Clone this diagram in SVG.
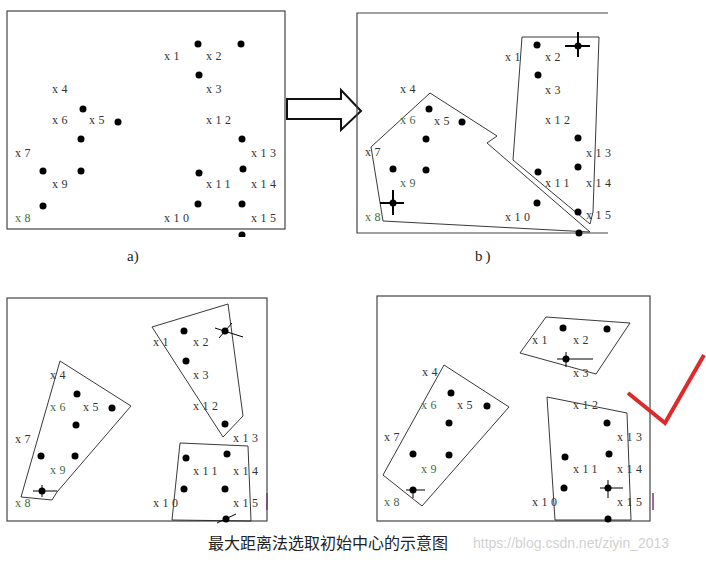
<svg xmlns="http://www.w3.org/2000/svg" width="706" height="562" viewBox="0 0 706 562">
<style>
.frame{fill:none;stroke:#444;stroke-width:1.2}
.poly{fill:none;stroke:#222;stroke-width:0.9;stroke-linejoin:miter}
.pt{fill:#000}
.lbl{font-family:"Liberation Serif",serif;font-size:12px;letter-spacing:3.5px;fill:#333}
.g{fill:#3d6b3d}
.cross{stroke:#000;stroke-width:2;fill:none}
.thin{stroke:#000;stroke-width:1;fill:none}
.cap{font-family:"Liberation Serif",serif;font-size:15px;fill:#222}
</style>
<defs>
<clipPath id="halfdot"><rect x="236" y="229" width="12" height="8"/></clipPath>
</defs>
<rect width="706" height="562" fill="#fff"/>

<!-- Panel a -->
<g id="panel-a">
<rect class="frame" x="7" y="11" width="278" height="218"/>
<g class="pts">
<circle class="pt" cx="198" cy="44" r="3.5"/>
<circle class="pt" cx="241" cy="44" r="3.5"/>
<circle class="pt" cx="199" cy="75" r="3.5"/>
<circle class="pt" cx="83" cy="109" r="3.5"/>
<circle class="pt" cx="118" cy="122" r="3.5"/>
<circle class="pt" cx="81" cy="139" r="3.5"/>
<circle class="pt" cx="43" cy="171" r="3.5"/>
<circle class="pt" cx="81" cy="171" r="3.5"/>
<circle class="pt" cx="43" cy="206" r="3.5"/>
<circle class="pt" cx="242" cy="139" r="3.5"/>
<circle class="pt" cx="243" cy="169" r="3.5"/>
<circle class="pt" cx="199" cy="173" r="3.5"/>
<circle class="pt" cx="198" cy="204" r="3.5"/>
<circle class="pt" cx="242" cy="204" r="3.5"/>
<circle class="pt" cx="242" cy="235" r="3.5" clip-path="url(#halfdot)"/>
</g>
<text class="lbl" x="164" y="60">x1</text>
<text class="lbl" x="206" y="60">x2</text>
<text class="lbl" x="52" y="93">x4</text>
<text class="lbl" x="206" y="93">x3</text>
<text class="lbl" x="52" y="124">x6</text>
<text class="lbl" x="89" y="124">x5</text>
<text class="lbl" x="206" y="124">x12</text>
<text class="lbl" x="15" y="157">x7</text>
<text class="lbl" x="251" y="157">x13</text>
<text class="lbl" x="52" y="188">x9</text>
<text class="lbl" x="206" y="188">x11</text>
<text class="lbl" x="251" y="188">x14</text>
<text class="lbl g" x="15" y="222">x8</text>
<text class="lbl" x="164" y="222">x10</text>
<text class="lbl" x="251" y="222">x15</text>
</g>

<!-- Transition arrow -->
<g id="connectors">
<polygon points="287,99 341,99 341,90 361,111 341,130 341,119 287,119" fill="#fff" stroke="#111" stroke-width="2" stroke-linejoin="miter"/>
</g>

<!-- Panel b -->
<g id="panel-b">
<path class="frame" d="M608,13 H357 V233 H608"/>
<polygon class="poly" points="430,93 497,136 487,143 590,232 383,221 371,147"/>
<polygon class="poly" points="522,37 599,37 593,212 590,224 513,160"/>
<circle class="pt" cx="429" cy="109" r="3.5"/>
<circle class="pt" cx="462" cy="122" r="3.5"/>
<circle class="pt" cx="426" cy="139" r="3.5"/>
<circle class="pt" cx="393" cy="169" r="3.5"/>
<circle class="pt" cx="426" cy="170" r="3.5"/>
<circle class="pt" cx="393" cy="203" r="3.5"/>
<path class="cross" d="M380,203 H404 M393,190 V215"/>
<circle class="pt" cx="537" cy="45" r="3.5"/>
<circle class="pt" cx="578" cy="46" r="3.5"/>
<path class="cross" d="M565,46 H590 M578,32 V57"/>
<circle class="pt" cx="538" cy="75" r="3.5"/>
<circle class="pt" cx="578" cy="138" r="3.5"/>
<circle class="pt" cx="578" cy="167" r="3.5"/>
<circle class="pt" cx="538" cy="172" r="3.5"/>
<circle class="pt" cx="537" cy="203" r="3.5"/>
<circle class="pt" cx="578" cy="212" r="3.5"/>
<circle class="pt" cx="579" cy="233" r="3.5"/>
<text class="lbl" x="400" y="93">x4</text>
<text class="lbl g" x="400" y="124">x6</text>
<text class="lbl" x="434" y="125">x5</text>
<text class="lbl" x="365" y="156">x7</text>
<text class="lbl g" x="400" y="187">x9</text>
<text class="lbl g" x="365" y="221">x8</text>
<text class="lbl" x="505" y="61">x1</text>
<text class="lbl" x="545" y="61">x2</text>
<text class="lbl" x="545" y="94">x3</text>
<text class="lbl" x="545" y="124">x12</text>
<text class="lbl" x="586" y="157">x13</text>
<text class="lbl" x="545" y="187">x11</text>
<text class="lbl" x="586" y="187">x14</text>
<text class="lbl" x="505" y="221">x10</text>
<text class="lbl" x="586" y="219">x15</text>
</g>

<text class="cap" x="127" y="261">a)</text>
<text class="cap" x="475" y="261" letter-spacing="3">b)</text>

<!-- Panel c -->
<g id="panel-c">
<rect class="frame" x="7" y="298" width="260" height="223"/>
<polygon class="poly" points="60,361 131,406 57,492 52,500 21,497"/>
<polygon class="poly" points="152,327 228,304 243,416 223,437"/>
<polygon class="poly" points="180,443 248,446 251,521 172,520" stroke-width="1.3"/>
<circle class="pt" cx="184" cy="331" r="3.5"/>
<circle class="pt" cx="225" cy="331" r="3.5"/>
<path class="thin" d="M215,328 L243,337 M219,338 L232,323"/>
<circle class="pt" cx="186" cy="361" r="3.5"/>
<circle class="pt" cx="77" cy="394" r="3.5"/>
<circle class="pt" cx="112" cy="408" r="3.5"/>
<circle class="pt" cx="76" cy="425" r="3.5"/>
<circle class="pt" cx="41" cy="456" r="3.5"/>
<circle class="pt" cx="75" cy="456" r="3.5"/>
<circle class="pt" cx="42" cy="491" r="3.5"/>
<path class="thin" d="M33,491 H57 M42,485 V497"/>
<circle class="pt" cx="225" cy="424" r="3.5"/>
<circle class="pt" cx="186" cy="458" r="3.5"/>
<circle class="pt" cx="227" cy="454" r="3.5"/>
<circle class="pt" cx="184" cy="489" r="3.5"/>
<circle class="pt" cx="225" cy="489" r="3.5"/>
<circle class="pt" cx="226" cy="519" r="3.5"/>
<path class="thin" d="M217,523 L236,514"/>
<text class="lbl" x="50" y="379">x4</text>
<text class="lbl g" x="50" y="411">x6</text>
<text class="lbl" x="83" y="411">x5</text>
<text class="lbl" x="15" y="443">x7</text>
<text class="lbl g" x="50" y="474">x9</text>
<text class="lbl g" x="15" y="507">x8</text>
<text class="lbl" x="153" y="346">x1</text>
<text class="lbl" x="193" y="346">x2</text>
<text class="lbl" x="193" y="379">x3</text>
<text class="lbl" x="193" y="410">x12</text>
<text class="lbl" x="233" y="442">x13</text>
<text class="lbl" x="193" y="475">x11</text>
<text class="lbl" x="233" y="475">x14</text>
<text class="lbl" x="153" y="507">x10</text>
<text class="lbl" x="233" y="507">x15</text>
<line x1="267" y1="493" x2="267" y2="510" stroke="#7a3d7a" stroke-width="1.5"/>
</g>

<!-- Panel d -->
<g id="panel-d">
<rect class="frame" x="377" y="296" width="273" height="225"/>
<polygon class="poly" points="546,317 630,323 596,374 520,353"/>
<polygon class="poly" points="444,365 509,407 422,506 383,475"/>
<polygon class="poly" points="547,397 627,413 631,520 555,520" stroke-width="1.3"/>
<circle class="pt" cx="563" cy="328" r="3.5"/>
<circle class="pt" cx="607" cy="329" r="3.5"/>
<circle class="pt" cx="566" cy="359" r="3.5"/>
<path class="thin" d="M557,359 H593 M566,352 V367"/>
<circle class="pt" cx="451" cy="393" r="3.5"/>
<circle class="pt" cx="487" cy="406" r="3.5"/>
<circle class="pt" cx="449" cy="423" r="3.5"/>
<circle class="pt" cx="413" cy="454" r="3.5"/>
<circle class="pt" cx="449" cy="455" r="3.5"/>
<circle class="pt" cx="413" cy="490" r="3.5"/>
<path class="thin" d="M406,490 H425 M413,487 V498"/>
<circle class="pt" cx="607" cy="423" r="3.5"/>
<circle class="pt" cx="565" cy="457" r="3.5"/>
<circle class="pt" cx="609" cy="454" r="3.5"/>
<circle class="pt" cx="564" cy="488" r="3.5"/>
<circle class="pt" cx="608" cy="488" r="3.5"/>
<path class="thin" d="M600,488 H623 M608,480 V498"/>
<circle class="pt" cx="608" cy="519" r="3.5"/>
<text class="lbl" x="422" y="376">x4</text>
<text class="lbl g" x="421" y="409">x6</text>
<text class="lbl" x="457" y="409">x5</text>
<text class="lbl" x="384" y="441">x7</text>
<text class="lbl g" x="421" y="473">x9</text>
<text class="lbl g" x="384" y="506">x8</text>
<text class="lbl" x="532" y="344">x1</text>
<text class="lbl" x="573" y="344">x2</text>
<text class="lbl" x="573" y="377">x3</text>
<text class="lbl" x="573" y="409">x12</text>
<text class="lbl" x="617" y="441">x13</text>
<text class="lbl" x="573" y="473">x11</text>
<text class="lbl" x="617" y="473">x14</text>
<text class="lbl" x="532" y="506">x10</text>
<text class="lbl" x="617" y="506">x15</text>
<line x1="653" y1="493" x2="653" y2="510" stroke="#7a3d7a" stroke-width="1.5"/>
</g>

<!-- Red check mark -->
<polyline points="628,393 665,423 704,355" fill="none" stroke="#dd2a2a" stroke-width="4" stroke-linejoin="miter"/>

<text x="208" y="549" font-family="'Noto Sans CJK SC',sans-serif" font-size="16" fill="#222">最大距离法选取初始中心的示意图</text>
<text x="473" y="548" font-family="'Liberation Sans',sans-serif" font-size="14" fill="#d2d2d2">https://blog.csdn.net/ziyin_2013</text>
</svg>
